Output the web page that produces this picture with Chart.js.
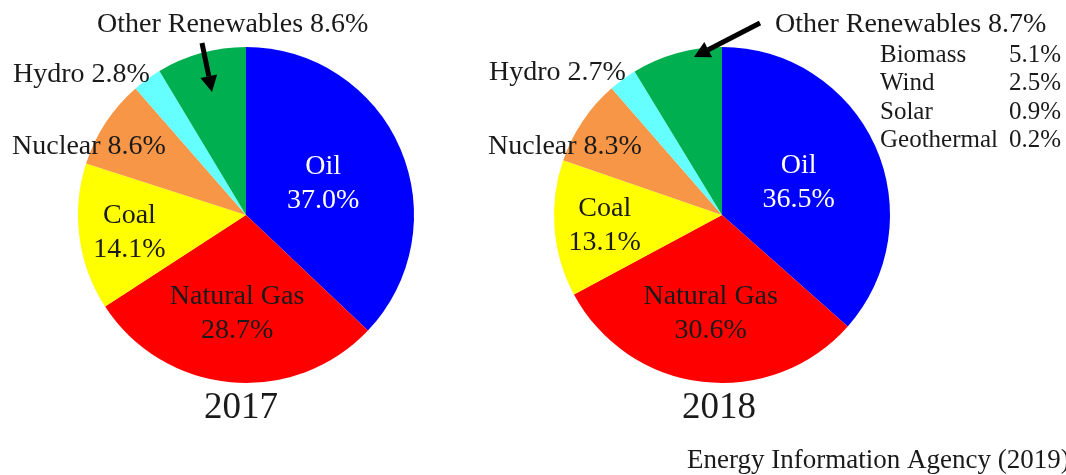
<!DOCTYPE html>
<html>
<head>
<meta charset="utf-8">
<script src="https://cdn.jsdelivr.net/npm/chart.js@4.4.1/dist/chart.umd.min.js"></script>
<style>
  html, body { margin: 0; padding: 0; background: #fff; }
  #wrap { position: relative; width: 1066px; height: 475px; overflow: hidden; }
  canvas { position: absolute; top: 0; }
</style>
</head>
<body>
<div id="wrap">
  <canvas id="pie2017" width="480" height="475" style="left:0px"></canvas>
  <canvas id="pie2018" width="586" height="475" style="left:480px"></canvas>
</div>
<script>
// Data
const categories = ['Oil', 'Natural Gas', 'Coal', 'Nuclear', 'Hydro', 'Other Renewables'];
const share2017 = [37.0, 28.7, 14.1, 8.6, 2.8, 8.6];
const share2018 = [36.5, 30.6, 13.1, 8.3, 2.7, 8.7];
const renewableTypes = ['Biomass', 'Wind', 'Solar', 'Geothermal'];
const renewable2018 = [5.1, 2.5, 0.9, 0.2];
const years = ['2017', '2018'];
const source = 'Energy Information Agency (2019)';

const colors = ['#0000ff', '#ff0000', '#ffff00', '#f79646', '#66ffff', '#00b050'];
const serif = '"Liberation Serif", "Times New Roman", serif';
const ink = '#1a1a1a';

// where the labels inside the slices go (fraction of the radius)
const innerFrac = [0.5, 0.58, 0.7];
const innerColor = ['#ffffff', ink, ink];

function pct(v) {
    return v.toFixed(1) + '%';
}

function drawArrow(ctx, x1, y1, x2, y2) {
    const ang = Math.atan2(y2 - y1, x2 - x1);
    const head = 16, hw = 8.5;
    const bx = x2 - Math.cos(ang) * head, by = y2 - Math.sin(ang) * head;
    ctx.strokeStyle = '#000';
    ctx.fillStyle = '#000';
    ctx.lineWidth = 5;
    ctx.beginPath();
    ctx.moveTo(x1, y1);
    ctx.lineTo(bx, by);
    ctx.stroke();
    ctx.beginPath();
    ctx.moveTo(x2, y2);
    ctx.lineTo(bx + Math.sin(ang) * hw, by - Math.cos(ang) * hw);
    ctx.lineTo(bx - Math.sin(ang) * hw, by + Math.cos(ang) * hw);
    ctx.closePath();
    ctx.fill();
}

function labelPlugin(cfg) {
    return {
        id: 'pieLabels',
        afterDatasetsDraw: function(chart) {
            const ctx = chart.ctx;
            const arcs = chart.getDatasetMeta(0).data;
            const values = chart.data.datasets[0].data;
            ctx.save();
            ctx.translate(-cfg.offsetX, 0);
            ctx.textBaseline = 'alphabetic';

            // labels inside the big slices
            ctx.font = '28px ' + serif;
            ctx.textAlign = 'center';
            for (let i = 0; i < 3; i++) {
                const p = arcs[i].getProps(['x', 'y', 'startAngle', 'endAngle', 'outerRadius'], true);
                const mid = (p.startAngle + p.endAngle) / 2;
                const r = p.outerRadius * innerFrac[i];
                const x = p.x + Math.cos(mid) * r + cfg.offsetX;
                const y = p.y + Math.sin(mid) * r + 9;
                ctx.fillStyle = innerColor[i];
                ctx.fillText(categories[i], x, y - 17);
                ctx.fillText(pct(values[i]), x, y + 17);
            }

            // labels outside the pie
            ctx.fillStyle = ink;
            ctx.textAlign = 'left';
            cfg.outer.forEach(function(o) {
                ctx.fillText(categories[o.i] + ' ' + pct(values[o.i]), o.x, o.y);
            });

            drawArrow(ctx, cfg.arrow[0], cfg.arrow[1], cfg.arrow[2], cfg.arrow[3]);

            // year under the pie
            ctx.fillStyle = ink;
            ctx.textAlign = 'center';
            ctx.font = '37px ' + serif;
            ctx.fillText(cfg.year, cfg.yearX, 418);

            if (cfg.extra) {
                cfg.extra(ctx);
            }
            ctx.restore();
        }
    };
}

function makePie(id, values, cfg, padding) {
    return new Chart(document.getElementById(id), {
        type: 'pie',
        data: {
            labels: categories,
            datasets: [{
                data: values,
                backgroundColor: colors,
                borderWidth: 0
            }]
        },
        options: {
            responsive: false,
            animation: false,
            devicePixelRatio: 1,
            layout: { padding: padding },
            plugins: {
                legend: { display: false },
                tooltip: { enabled: false }
            }
        },
        plugins: [labelPlugin(cfg)]
    });
}

makePie('pie2017', share2017, {
    offsetX: 0,
    year: years[0],
    yearX: 241,
    outer: [
        {i: 5, x: 97, y: 32},
        {i: 4, x: 13, y: 82},
        {i: 3, x: 12, y: 154}
    ],
    arrow: [202, 43, 212, 92]
}, {left: 78, right: 66, top: 47, bottom: 92});

makePie('pie2018', share2018, {
    offsetX: 480,
    year: years[1],
    yearX: 719,
    outer: [
        {i: 5, x: 775, y: 32},
        {i: 4, x: 489, y: 80},
        {i: 3, x: 488, y: 154}
    ],
    arrow: [760, 23, 694, 57],
    extra: function(ctx) {
        ctx.fillStyle = ink;
        ctx.font = '25px ' + serif;
        renewableTypes.forEach(function(name, k) {
            const y = 61.5 + k * 28.5;
            ctx.textAlign = 'left';
            ctx.fillText(name, 880, y);
            ctx.textAlign = 'right';
            ctx.fillText(pct(renewable2018[k]), 1061, y);
        });
        ctx.textAlign = 'left';
        ctx.font = '27px ' + serif;
        ctx.fillText(source, 687, 468);
    }
}, {left: 74, right: 176, top: 47, bottom: 92});
</script>
</body>
</html>
